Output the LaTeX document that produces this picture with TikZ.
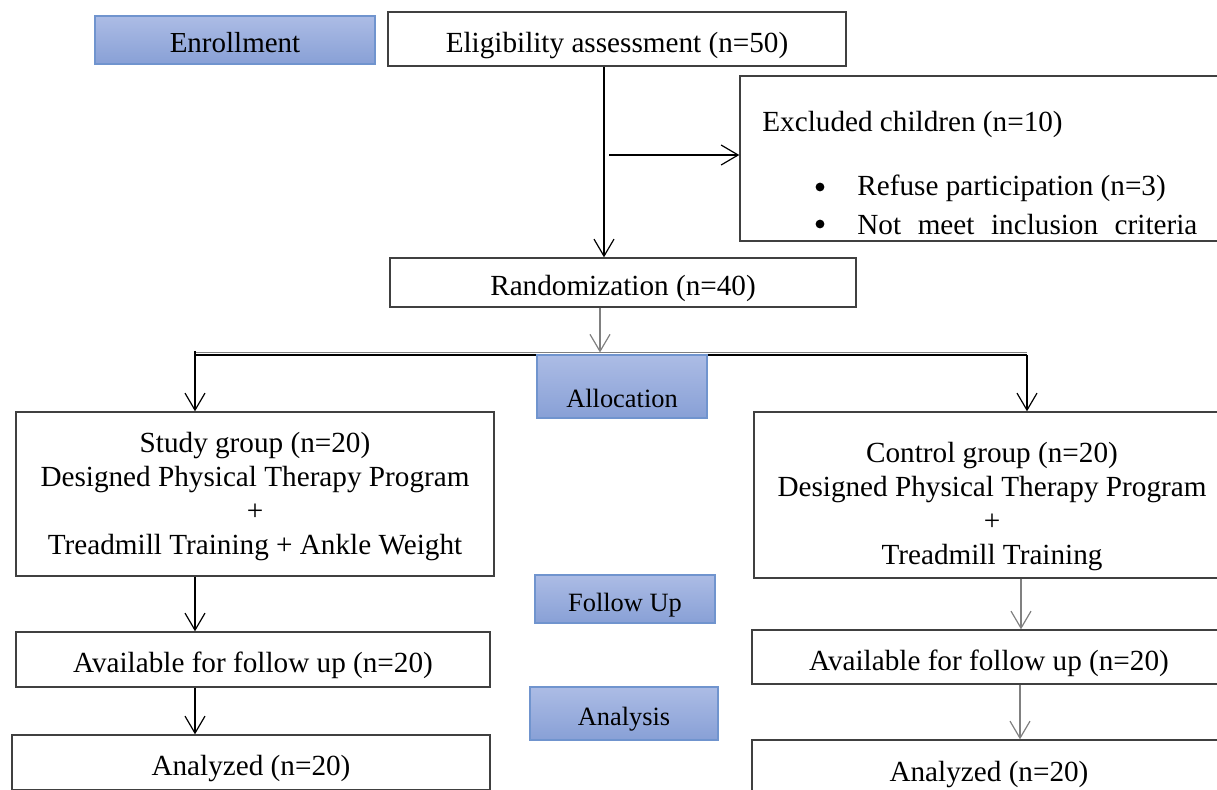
\documentclass[tikz,border=0pt]{standalone}
\usepackage{fontspec}
\setmainfont{Liberation Serif}
\usetikzlibrary{arrows.meta}
\definecolor{lblfillA}{RGB}{172,188,229}
\definecolor{lblfillB}{RGB}{136,160,214}
\definecolor{lbledge}{RGB}{112,148,206}
\definecolor{boxedge}{RGB}{64,64,64}
\tikzset{
 flow/.style={draw=boxedge, line width=0.7pt, fill=white, inner sep=0pt, align=center, font=\fontsize{14.6}{17}\selectfont},
 lowtext/.style={text height=16pt, text depth=3pt},
 stage/.style={draw=lbledge, line width=0.6pt, top color=lblfillA, bottom color=lblfillB, inner sep=0pt, font=\fontsize{13.2}{16}\selectfont},
 stagelow/.style={text height=15pt, text depth=3pt},
 txt/.style={inner sep=0pt, font=\fontsize{14.6}{17}\selectfont},
 stagetxt/.style={inner sep=0pt, font=\fontsize{13.2}{16}\selectfont},
 bulletdot/.style={circle, fill=black, inner sep=0pt, minimum size=4.4pt},
 arr/.style={line width=0.6pt, -{Straight Barb[length=8.5pt,width=10pt]}},
 garr/.style={arr, draw=gray},
}
\newcommand\flowbox[7]{\node[#6, minimum width={(#4-#2)*0.5pt}, minimum height={(#5-#3)*0.5pt}] (#1) at ({(#2+#4)/2},{(#3+#5)/2}) {#7};}
\begin{document}
\begin{tikzpicture}[x=0.5pt,y=-0.5pt]
\useasboundingbox (0,0) rectangle (1217,789);
\clip (0,0) rectangle (1217,789);

% stage label (top)
\flowbox{enroll}{95}{16}{375}{64}{stage, stagelow, font=\fontsize{14.5}{17}\selectfont}{Enrollment}

% main boxes
\flowbox{elig}{388}{12}{846}{66}{flow, lowtext}{Eligibility assessment (n=50)}
\flowbox{excl}{740}{76}{1245}{241}{flow}{}
\node[txt, anchor=west] (exclT) at (762,124) {Excluded children (n=10)};
\node[bulletdot] (bul1) at (820,187) {};
\node[txt, anchor=west] (ex1) at (857,188) {Refuse participation (n=3)};
\node[bulletdot] (bul2) at (820,224) {};
\node[txt, anchor=west] (ex2) at (857,225) {\makebox[170pt][s]{Not meet inclusion criteria}};
\flowbox{rand}{390}{258}{856}{307}{flow, lowtext}{Randomization (n=40)}

\flowbox{study}{16}{412}{494}{576}{flow}{}
\node[txt, align=center] (studyT) at (255,497) {Study group (n=20)\\Designed Physical Therapy Program\\+\\Treadmill Training + Ankle Weight};
\flowbox{ctrl}{754}{412}{1230}{578}{flow}{}
\node[txt, align=center] (ctrlT) at (992,507) {Control group (n=20)\\Designed Physical Therapy Program\\+\\Treadmill Training};

\flowbox{availL}{16}{632}{490}{687}{flow, lowtext}{Available for follow up (n=20)}
\flowbox{anaL}{12}{735}{490}{790}{flow, lowtext}{Analyzed (n=20)}
\flowbox{availR}{752}{630}{1226}{684}{flow, lowtext}{Available for follow up (n=20)}
\flowbox{anaR}{752}{740}{1226}{796}{flow, lowtext}{Analyzed (n=20)}

% connectors
\draw[arr] ([xshift=-6.5pt]elig.south) -- ([xshift=-6.5pt]elig.south |- rand.north);
\coordinate (exA) at (609,155);
\draw[arr] (exA) -- (exA -| excl.west);

\coordinate (splitL) at (195,352.5);
\coordinate (splitR) at (1027,352.5);
\coordinate (splitLb) at (195,355);
\coordinate (splitRb) at (1027,355);
\draw[garr] ([xshift=-11.5pt]rand.south) -- ([xshift=-11.5pt]rand.south |- splitL);
\draw[gray, line width=0.6pt] (splitL) -- (splitR);
\draw[line width=0.6pt] (splitLb) -- (splitRb);
\draw[arr] ([yshift=0.8pt]splitL) -- (splitL |- study.north);
\draw[arr] (splitRb) -- (splitRb |- ctrl.north);

\coordinate (colL) at (195,0);
\coordinate (colR) at (1021,0);
\draw[arr] (study.south -| colL) -- (availL.north -| colL);
\draw[arr] (availL.south -| colL) -- (anaL.north -| colL);
\draw[garr] (ctrl.south -| colR) -- (availR.north -| colR);
\draw[garr] ([xshift=-0.5pt]availR.south -| colR) -- ([xshift=-0.5pt]anaR.north -| colR);

% stage labels drawn on top
\flowbox{alloc}{537}{355}{707}{418}{stage}{}
\node[stagetxt] (allocT) at (622,398) {Allocation};
\flowbox{follow}{535}{575}{715}{623}{stage, stagelow}{Follow Up}
\flowbox{analysis}{530}{687}{718}{740}{stage, stagelow}{Analysis}
\end{tikzpicture}
\end{document}
